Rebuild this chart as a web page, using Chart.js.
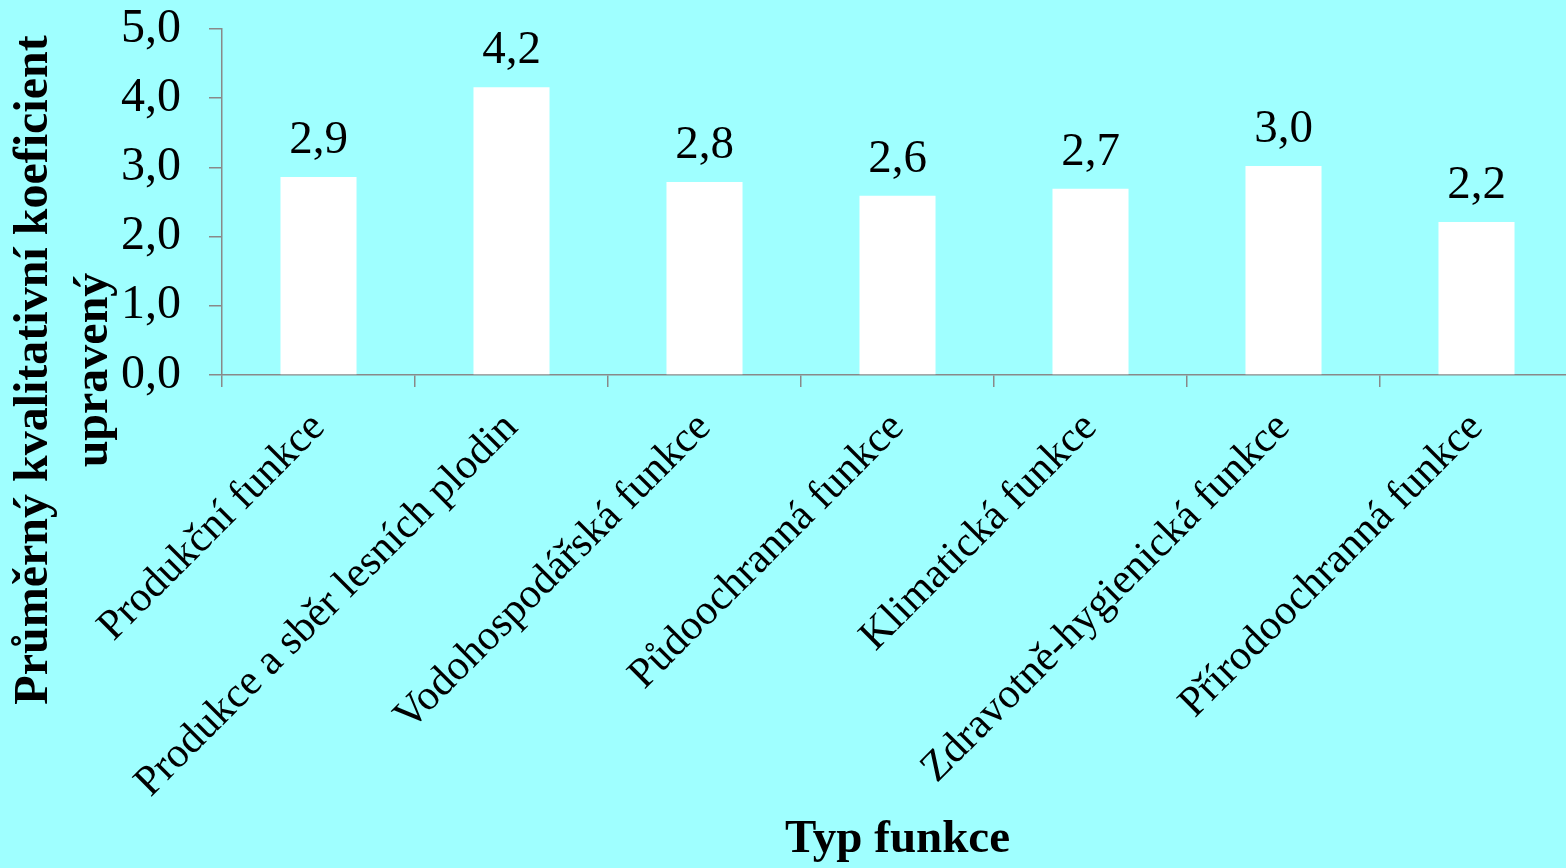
<!DOCTYPE html>
<html><head><meta charset="utf-8">
<script src="https://cdn.jsdelivr.net/npm/chart.js@4.4.1/dist/chart.umd.min.js"></script>
<style>
html,body{margin:0;padding:0;background:#9FFFFF;overflow:hidden;}
#wrap{position:relative;width:1574px;height:868px;}
</style></head><body>
<div id="wrap"><canvas id="c"></canvas></div>
<script>
const categories = ['Produkční funkce','Produkce a sběr lesních plodin','Vodohospodářská funkce','Půdoochranná funkce','Klimatická funkce','Zdravotně-hygienická funkce','Přírodoochranná funkce'];
const values = [2.86, 4.16, 2.79, 2.59, 2.69, 3.02, 2.21];
const valueLabels = ['2,9','4,2','2,8','2,6','2,7','3,0','2,2'];
const yTickLabels = ['0,0','1,0','2,0','3,0','4,0','5,0'];
const yTitleLines = ['Průměrný kvalitativní koeficient','upravený'];
const xTitle = 'Typ funkce';

const FONT = "'Liberation Serif','Times New Roman',serif";
const AXIS = '#898989';

const valueLabelPlugin = {
  id:'valueLabels',
  afterDatasetsDraw(chart){
    const ctx = chart.ctx;
    const meta = chart.getDatasetMeta(0);
    ctx.save();
    ctx.font = '47px ' + FONT;
    ctx.fillStyle = '#000';
    ctx.textAlign = 'center';
    ctx.textBaseline = 'alphabetic';
    meta.data.forEach((bar,i)=>{
      ctx.fillText(valueLabels[i], bar.x, bar.y - 24);
    });
    ctx.restore();
  }
};
const yTitlePlugin = {
  id:'yTitle',
  afterDraw(chart){
    const ctx = chart.ctx;
    ctx.save();
    ctx.font = 'bold 48px ' + FONT;
    ctx.fillStyle = '#000';
    ctx.textAlign = 'center';
    ctx.textBaseline = 'middle';
    const xs = [35, 95];
    yTitleLines.forEach((t,i)=>{
      ctx.save();
      ctx.translate(xs[i], 370);
      ctx.rotate(-Math.PI/2);
      ctx.fillText(t, 0, 0);
      ctx.restore();
    });
    ctx.restore();
  }
};

new Chart(document.getElementById('c'), {
  type:'bar',
  data:{
    labels: categories,
    datasets:[{data: values, backgroundColor:'#FFFFFF', borderWidth:0, barPercentage:0.394, categoryPercentage:1.0}]
  },
  options:{
    responsive:true, maintainAspectRatio:false, devicePixelRatio:1, animation:false,
    layout:{padding:{top:29,left:0,right:1,bottom:0}},
    plugins:{legend:{display:false}, tooltip:{enabled:false}},
    scales:{
      x:{
        offset:true,
        grid:{offset:true, drawOnChartArea:false, drawTicks:true, tickLength:12, color:AXIS, lineWidth:1.5},
        border:{color:AXIS, width:1.5},
        ticks:{minRotation:45, maxRotation:45, autoSkip:false, color:'#000', font:{family:FONT, size:42.5}, padding:16},
        title:{display:true, text:xTitle, color:'#000', font:{family:FONT, size:47, weight:'bold'}, padding:{top:0,bottom:0}},
        afterFit(s){ s.height = 868-375; s.paddingLeft = 0; s.paddingRight = 0; }
      },
      y:{
        min:0, max:5,
        grid:{drawOnChartArea:false, drawTicks:true, tickLength:13, color:AXIS, lineWidth:1.5},
        border:{color:AXIS, width:1.5},
        ticks:{stepSize:1, padding:28, color:'#000', font:{family:FONT, size:48}, callback:(v,i)=>yTickLabels[i]},
        afterFit(s){ s.width = 222; s.paddingTop = 0; s.paddingBottom = 0; }
      }
    }
  },
  plugins:[valueLabelPlugin, yTitlePlugin]
});
</script>
</body></html>
